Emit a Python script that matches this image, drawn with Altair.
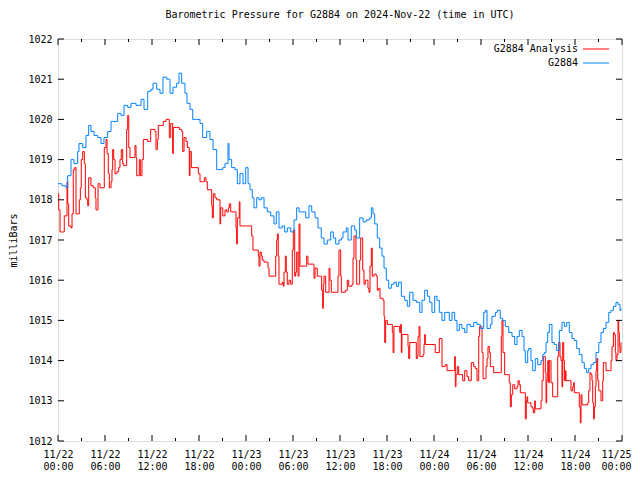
import altair as alt
import pandas as pd

FONT = "DejaVu Sans Mono"

# G2884 (blue) : hours since 2024-11-22 00:00 UTC, pressure in mb
blue_h = [0.0, 0.51, 1.02, 1.24, 1.66, 2.04, 2.51, 2.68, 3.15, 3.57, 3.92, 4.21, 4.60, 5.07, 5.49, 5.87,
          6.34, 6.77, 7.15, 7.62, 8.04, 8.43, 8.90, 9.32, 9.96, 10.60, 10.98, 11.45, 11.87, 12.13, 12.60,
          13.02, 13.40, 13.88, 14.30, 14.68, 15.15, 15.45, 15.79, 16.21, 16.47, 16.85, 17.20, 17.71, 18.13,
          18.47, 18.98, 19.40, 19.79, 20.26, 20.68, 21.03, 21.32, 21.70, 21.83, 22.17, 22.60, 22.89, 23.23,
          23.62, 23.96, 24.26, 24.51, 24.80, 25.02, 25.37, 25.66, 25.95, 26.30, 26.72, 27.16, 27.57, 27.87,
          28.21, 28.63, 28.94, 29.27, 29.71, 30.13, 30.47, 30.77, 31.19, 31.62, 32.04, 32.39, 32.81, 33.19,
          33.61, 33.96, 34.38, 34.81, 35.15, 35.45, 35.87, 36.17, 36.38, 36.80, 37.02, 37.44, 37.88, 38.08,
          38.51, 38.94, 39.36, 39.79, 40.00, 40.21, 40.43, 40.76, 41.07, 41.36, 41.62, 41.91, 42.22, 42.55,
          42.89, 43.19, 43.49, 43.83, 44.26, 44.59, 44.90, 45.32, 45.74, 46.18, 46.47, 46.81, 47.15, 47.45,
          47.74, 48.09, 48.38, 48.68, 49.02, 49.37, 49.66, 49.95, 50.30, 50.64, 50.94, 51.23, 51.57, 51.92,
          52.21, 52.64, 53.07, 53.49, 53.91, 54.35, 54.55, 54.77, 55.19, 55.40, 55.83, 56.08, 56.46, 56.77,
          57.10, 57.54, 57.96, 58.30, 58.60, 58.89, 59.24, 59.49, 59.66, 59.96, 60.09, 60.38, 60.60, 60.93,
          61.24, 61.66, 61.88, 62.08, 62.30, 62.52, 62.72, 63.06, 63.36, 63.66, 64.00, 64.34, 64.64, 64.94,
          65.27, 65.62, 65.91, 66.22, 66.55, 66.89, 67.19, 67.49, 67.75, 68.04, 68.34, 68.68, 69.03, 69.32,
          69.62, 69.96, 70.31, 70.60, 70.90, 71.23, 71.49, 71.74, 71.87]
blue_p = [1018.4, 1018.35, 1018.3, 1018.6, 1019.0, 1018.9, 1019.2, 1019.4, 1019.3, 1019.6, 1019.85, 1019.7,
          1019.6, 1019.55, 1019.4, 1019.55, 1019.7, 1019.95, 1019.95, 1020.15, 1020.1, 1020.35, 1020.3, 1020.4,
          1020.35, 1020.5, 1020.25, 1020.7, 1020.75, 1020.9, 1020.75, 1020.65, 1021.05, 1021.0, 1020.65, 1020.8,
          1020.9, 1021.15, 1020.9, 1020.65, 1020.4, 1020.25, 1020.0, 1020.0, 1019.9, 1019.55, 1019.7, 1019.5,
          1019.25, 1018.75, 1018.75, 1018.8, 1018.9, 1019.4, 1019.0, 1018.8, 1018.75, 1018.4, 1018.65, 1018.4,
          1018.8, 1018.4, 1018.25, 1018.05, 1017.8, 1018.05, 1018.0, 1018.05, 1017.8, 1017.7, 1017.6, 1017.4,
          1017.7, 1017.3, 1017.35, 1017.2, 1017.3, 1017.2, 1017.5, 1017.8, 1017.7, 1017.7, 1017.55, 1017.85,
          1017.7, 1017.55, 1017.3, 1017.05, 1016.9, 1017.0, 1017.2, 1017.05, 1016.9, 1017.0, 1017.05, 1017.2,
          1017.3, 1017.0, 1017.35, 1017.25, 1017.05, 1017.55, 1017.45, 1017.5, 1017.55, 1017.8, 1017.65, 1017.4,
          1017.05, 1016.8, 1016.6, 1016.3, 1016.0, 1015.8, 1015.9, 1015.95, 1015.85, 1015.95, 1015.6, 1015.5,
          1015.35, 1015.7, 1015.5, 1015.45, 1015.2, 1015.5, 1015.75, 1015.6, 1015.45, 1015.2, 1015.6, 1015.5,
          1015.2, 1015.0, 1015.2, 1015.2, 1015.0, 1015.2, 1015.0, 1014.75, 1014.9, 1014.8, 1014.7, 1014.9,
          1014.85, 1014.95, 1014.9, 1014.8, 1015.2, 1015.25, 1014.8, 1014.9, 1015.1, 1015.2, 1015.25, 1015.05,
          1015.0, 1014.85, 1014.7, 1014.6, 1014.4, 1014.6, 1014.75, 1014.6, 1014.25, 1013.95, 1014.25, 1014.3,
          1014.0, 1013.75, 1014.05, 1013.9, 1014.0, 1014.15, 1014.2, 1014.45, 1014.7, 1014.9, 1014.45, 1014.4,
          1014.25, 1014.75, 1014.95, 1014.85, 1014.95, 1014.7, 1014.55, 1014.5, 1014.3, 1014.15, 1013.95,
          1013.8, 1013.7, 1013.8, 1013.9, 1013.95, 1014.2, 1014.45, 1014.7, 1014.8, 1014.95, 1015.2, 1015.25,
          1015.35, 1015.45, 1015.4, 1015.25, 1015.3]

# G2884 Analysis (red)
red_h = [0.00, 0.09, 0.26, 0.60, 0.80, 1.02, 1.15, 1.24, 1.37, 1.66, 1.79, 1.95, 2.13, 2.30, 2.51, 2.72,
         2.85, 2.97, 3.15, 3.36, 3.49, 3.70, 3.79, 3.92, 4.09, 4.21, 4.51, 4.76, 4.85, 5.07, 5.11, 5.36,
         5.71, 5.91, 6.13, 6.26, 6.42, 6.55, 6.77, 6.89, 6.98, 7.11, 7.28, 7.53, 7.75, 7.91, 8.08, 8.26,
         8.39, 8.68, 8.77, 8.90, 9.03, 9.19, 9.70, 9.83, 9.96, 10.05, 10.30, 10.38, 10.51, 10.72, 10.89,
         11.23, 11.45, 11.66, 11.83, 12.26, 12.38, 12.51, 12.68, 12.80, 13.24, 13.44, 13.79, 14.08, 14.21,
         14.39, 14.64, 14.72, 15.15, 15.49, 15.79, 15.92, 16.09, 16.34, 16.51, 16.76, 16.85, 17.02, 17.62,
         17.91, 18.13, 18.47, 18.68, 18.89, 19.06, 19.40, 19.62, 19.70, 19.83, 20.04, 20.26, 20.46, 20.68,
         20.77, 21.03, 21.32, 21.54, 21.74, 21.87, 22.05, 22.47, 22.72, 22.81, 22.89, 23.14, 23.23, 23.96,
         24.60, 24.73, 24.89, 25.44, 25.57, 25.66, 25.79, 25.95, 26.08, 26.30, 26.64, 26.81, 26.94, 27.66,
         27.79, 27.92, 28.00, 28.12, 28.21, 28.63, 28.76, 28.85, 29.02, 29.14, 29.27, 29.49, 29.71, 29.91,
         30.04, 30.22, 30.34, 30.47, 30.64, 30.77, 30.89, 31.62, 31.75, 31.91, 32.59, 32.68, 32.81, 33.10,
         33.54, 33.66, 33.79, 33.87, 33.96, 34.17, 34.47, 34.60, 34.72, 34.89, 35.58, 35.74, 35.87, 36.00,
         36.09, 36.17, 36.51, 36.68, 36.93, 37.11, 37.53, 37.66, 37.79, 37.95, 38.04, 38.13, 38.39, 38.51,
         38.64, 38.81, 38.90, 39.06, 39.23, 39.41, 39.57, 39.70, 39.83, 40.00, 40.12, 40.34, 40.63, 40.76,
         40.94, 41.11, 41.49, 41.62, 41.71, 41.83, 42.04, 42.55, 42.68, 42.77, 42.89, 43.49, 43.62, 43.75,
         43.83, 43.91, 44.59, 44.68, 44.77, 44.90, 45.61, 45.74, 45.87, 45.96, 46.09, 46.21, 46.60, 46.72,
         46.81, 46.89, 47.74, 48.09, 48.16, 48.51, 48.68, 48.93, 49.02, 49.44, 49.66, 50.51, 50.64, 50.72,
         50.81, 50.97, 51.15, 51.57, 51.66, 51.92, 52.21, 52.43, 52.76, 53.07, 53.27, 53.49, 53.71, 53.83,
         54.04, 54.13, 54.26, 54.55, 54.64, 54.77, 54.89, 55.06, 55.19, 55.62, 56.46, 56.59, 56.68, 56.81,
         57.02, 57.54, 57.61, 57.74, 57.87, 58.05, 58.30, 58.60, 58.72, 58.89, 59.02, 59.58, 59.66, 59.78,
         59.87, 59.96, 60.17, 60.38, 60.60, 60.68, 60.86, 60.93, 61.53, 61.66, 61.79, 61.95, 62.08, 62.21,
         62.30, 62.39, 62.52, 62.64, 62.72, 62.94, 63.15, 63.66, 63.79, 63.92, 64.09, 64.21, 64.34, 64.43,
         64.56, 64.64, 64.77, 64.85, 65.27, 65.49, 65.71, 65.83, 65.91, 66.47, 66.55, 66.68, 66.77, 66.89,
         67.62, 67.75, 67.91, 68.04, 68.17, 68.26, 68.38, 68.47, 68.60, 68.68, 68.77, 68.90, 69.03, 69.19,
         69.32, 69.45, 69.54, 69.62, 69.87, 69.96, 70.38, 70.60, 70.72, 70.90, 71.02, 71.15, 71.23, 71.36,
         71.49, 71.58, 71.66, 71.74, 71.87]
red_p = [1018.15, 1017.75, 1017.2, 1017.2, 1017.6, 1017.6, 1018.45, 1017.9, 1017.35, 1017.3, 1017.65, 1018.75,
         1018.8, 1017.65, 1017.65, 1018.0, 1018.3, 1019.0, 1019.2, 1018.9, 1018.05, 1018.0, 1017.85, 1018.55,
         1018.55, 1018.35, 1018.3, 1018.05, 1017.75, 1017.75, 1018.4, 1018.3, 1018.3, 1019.3, 1019.5, 1019.15,
         1018.65, 1018.3, 1018.45, 1018.75, 1019.25, 1019.0, 1018.65, 1018.7, 1018.8, 1019.0, 1019.25, 1018.9,
         1018.85, 1018.85, 1019.75, 1020.1, 1019.3, 1019.05, 1019.05, 1019.35, 1019.05, 1018.6, 1018.6, 1019.0,
         1018.6, 1019.0, 1019.5, 1019.5, 1019.45, 1019.45, 1019.75, 1019.75, 1019.7, 1019.25, 1019.5, 1019.85,
         1019.85, 1019.95, 1020.0, 1020.0, 1019.55, 1019.9, 1019.15, 1019.8, 1019.8, 1019.75, 1019.7, 1019.2,
         1019.55, 1019.45, 1019.3, 1018.6, 1019.2, 1018.8, 1018.8, 1018.65, 1018.45, 1018.45, 1018.55, 1018.45,
         1018.25, 1018.25, 1017.85, 1017.55, 1018.15, 1018.05, 1018.0, 1018.0, 1017.4, 1017.8, 1017.6, 1017.75,
         1017.7, 1017.8, 1017.9, 1017.7, 1017.7, 1017.3, 1016.9, 1017.55, 1017.95, 1017.35, 1017.35, 1017.35,
         1017.1, 1016.75, 1016.75, 1016.6, 1016.35, 1016.7, 1016.6, 1016.5, 1016.45, 1016.45, 1016.3, 1016.1,
         1016.1, 1016.6, 1017.0, 1017.15, 1016.6, 1015.9, 1015.95, 1015.85, 1016.2, 1016.6, 1016.2, 1015.9,
         1016.0, 1015.9, 1016.75, 1017.25, 1016.1, 1016.2, 1016.7, 1016.1, 1017.4, 1016.35, 1016.35, 1016.6,
         1016.4, 1016.4, 1016.05, 1016.3, 1016.1, 1016.1, 1015.75, 1015.3, 1015.9, 1016.1, 1015.7, 1015.7,
         1016.3, 1016.0, 1015.7, 1015.7, 1016.1, 1016.75, 1016.75, 1016.1, 1015.7, 1015.7, 1015.75, 1016.0,
         1015.85, 1015.9, 1016.55, 1017.1, 1017.1, 1016.5, 1015.9, 1015.9, 1016.5, 1017.05, 1017.05, 1016.25,
         1015.9, 1016.0, 1016.0, 1015.8, 1015.7, 1016.35, 1016.8, 1016.1, 1016.15, 1016.1, 1015.75, 1015.8,
         1015.55, 1015.5, 1015.1, 1014.45, 1015.0, 1014.9, 1014.9, 1014.7, 1014.2, 1014.85, 1014.85, 1014.7,
         1014.9, 1014.2, 1014.65, 1014.65, 1014.35, 1014.05, 1014.45, 1014.45, 1014.05, 1014.1, 1014.6, 1014.85,
         1014.1, 1014.15, 1014.4, 1014.65, 1014.4, 1014.4, 1014.4, 1014.2, 1014.2, 1014.55, 1014.55, 1013.85,
         1013.9, 1013.75, 1013.75, 1014.1, 1013.35, 1013.65, 1013.85, 1013.65, 1013.65, 1013.5, 1013.75,
         1013.6, 1013.5, 1013.95, 1013.85, 1013.8, 1013.5, 1014.6, 1014.85, 1014.85, 1014.2, 1013.55, 1013.55,
         1013.85, 1014.05, 1014.35, 1014.2, 1013.85, 1013.7, 1013.7, 1014.6, 1015.0, 1014.2, 1013.65, 1013.65,
         1013.45, 1012.85, 1013.15, 1013.4, 1013.3, 1013.35, 1013.5, 1013.4, 1013.2, 1013.2, 1012.55, 1013.0,
         1013.1, 1012.95, 1012.95, 1012.85, 1012.8, 1012.7, 1013.0, 1012.8, 1012.8, 1013.0, 1013.5, 1014.1,
         1014.1, 1013.7, 1012.95, 1013.5, 1014.0, 1013.45, 1014.0, 1013.45, 1013.1, 1013.1, 1014.1, 1014.45,
         1014.1, 1014.0, 1013.35, 1014.45, 1014.0, 1013.5, 1013.75, 1013.5, 1013.5, 1013.25, 1013.35, 1013.45,
         1013.2, 1013.2, 1012.85, 1012.45, 1013.15, 1012.9, 1012.95, 1013.25, 1013.7, 1013.65, 1013.5, 1012.95,
         1012.55, 1012.85, 1013.35, 1013.75, 1014.05, 1013.5, 1013.25, 1013.25, 1013.0, 1013.0, 1013.5, 1013.95,
         1013.95, 1013.75, 1013.75, 1014.0, 1014.35, 1014.7, 1014.65, 1014.2, 1014.0, 1014.15, 1015.0, 1014.7,
         1014.35, 1014.2, 1014.45]

series_names = ["G2884 Analysis", "G2884"]
series_colors = ["#ff0000", "#0080ff"]

x_major = list(range(0, 73, 6))
x_minor = list(range(3, 72, 6))
y_ticks = list(range(1012, 1023))

W, H = 564, 402

red_df = pd.DataFrame({"h": red_h, "p": red_p, "series": series_names[0]})
blue_df = pd.DataFrame({"h": blue_h, "p": blue_p, "series": series_names[1]})

xscale = alt.Scale(domain=[0, 72], nice=False, zero=False)
yscale = alt.Scale(domain=[1012, 1022], nice=False, zero=False)

label_expr = ("['11/' + (22 + floor(datum.value / 24)), "
              "(datum.value % 24 < 10 ? '0' : '') + (datum.value % 24) + ':00']")

x_axis = alt.Axis(values=x_major, labelExpr=label_expr, tickSize=0, domain=False, grid=False,
                  title=None, labelPadding=8, labelBaseline="top", labelLineHeight=12,
                  labelFont=FONT, labelFontSize=10, labelColor="black", labelFlush=False,
                  labelOverlap=False,
                  labelOffset={"condition": {"test": "datum.value == 72", "value": -6}, "value": 0})
y_axis = alt.Axis(values=y_ticks, format="d", tickSize=0, domain=False, grid=False,
                  title="milliBars", labelPadding=6, labelFont=FONT, labelFontSize=10,
                  labelColor="black", labelFlush=False, labelOverlap=False,
                  titleFont=FONT, titleFontSize=10, titleFontWeight="normal", titleColor="black",
                  titleX=-45, titleY=H / 2, titleAlign="center", titleBaseline="middle", titleAngle=-90)

X = alt.X("h:Q", scale=xscale, axis=x_axis)
Y = alt.Y("p:Q", scale=yscale, axis=y_axis)

red_line = alt.Chart(red_df).mark_line(interpolate="step-after", strokeWidth=1, color=series_colors[0]).encode(
    x=X, y=Y)
blue_line = alt.Chart(blue_df).mark_line(interpolate="step-after", strokeWidth=1, color=series_colors[1]).encode(
    x=X, y=Y)

xmaj_df = pd.DataFrame({"h": x_major})
xmin_df = pd.DataFrame({"h": x_minor})
yt_df = pd.DataFrame({"p": y_ticks})


def xticks(df, y0, y1):
    return alt.Chart(df).mark_rule(color="black", strokeWidth=1).encode(
        x=X, y=alt.value(y0), y2=alt.value(y1))


def yticks(x0, x1):
    return alt.Chart(yt_df).mark_rule(color="black", strokeWidth=1).encode(
        y=Y, x=alt.value(x0), x2=alt.value(x1))


tick_layers = [
    xticks(xmaj_df, H, H - 6), xticks(xmaj_df, 0, 6),
    xticks(xmin_df, H, H - 3), xticks(xmin_df, 0, 3),
    yticks(0, 6), yticks(W, W - 6),
]

legend_layers = []
for i, (name, col) in enumerate(zip(series_names, series_colors)):
    ldf = pd.DataFrame({"series": [name]})
    ypx = 10 + 14 * i
    legend_layers.append(
        alt.Chart(ldf).mark_text(align="right", baseline="middle", font=FONT, fontSize=10, color="black").encode(
            text="series:N", x=alt.value(520), y=alt.value(ypx)))
    legend_layers.append(
        alt.Chart(ldf).mark_rule(color=col, strokeWidth=1).encode(
            x=alt.value(525), x2=alt.value(551), y=alt.value(ypx)))

chart = alt.layer(red_line, blue_line, *tick_layers, *legend_layers).properties(
    width=W, height=H,
    title=alt.TitleParams("Barometric Pressure for G2884 on 2024-Nov-22 (time in UTC)",
                          font=FONT, fontSize=10, fontWeight="normal", color="black",
                          anchor="middle", frame="group", offset=4, baseline="bottom"),
    padding={"left": 50, "top": 31, "right": 10, "bottom": 33},
    autosize=alt.AutoSizeParams(type="none"),
).configure_view(stroke="black", strokeWidth=1).configure(background="white")

chart.save("out.html", embed_options={"renderer": "svg", "actions": False})
